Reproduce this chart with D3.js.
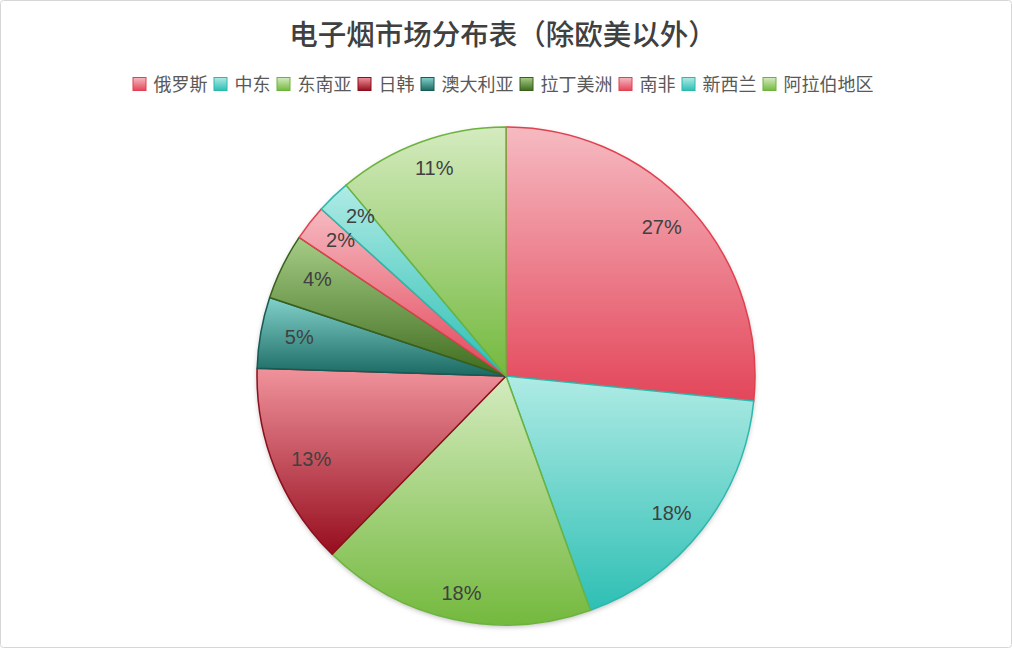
<!DOCTYPE html>
<html>
<head>
<meta charset="utf-8">
<script src="https://cdn.jsdelivr.net/npm/d3@7/dist/d3.min.js"></script>
<style>
  body { margin: 0; background: #fff; }
  svg { display: block; }
</style>
</head>
<body>
<script>
var width = 1012;
var height = 648;

// data (percent share)
var regions = ['俄罗斯', '中东', '东南亚', '日韩', '澳大利亚', '拉丁美洲', '南非', '新西兰', '阿拉伯地区'];
var shares = [26.6, 17.9, 17.8, 13.2, 4.6, 4.3, 2.3, 2.2, 11.1];

var topColors = ['#f6bac1', '#afebe5', '#d4ebbf', '#f0939c', '#82d2cb', '#a6cd86', '#f6bac1', '#afebe5', '#d4ebbf'];
var bottomColors = ['#e3465a', '#2ebfb4', '#74b93e', '#960d1e', '#1a6a63', '#3f6c1f', '#e3465a', '#2ebfb4', '#74b93e'];
var strokeColors = ['#e0404f', '#2bb8ad', '#6cb33d', '#8c0e1c', '#155a54', '#395f1c', '#e0404f', '#2bb8ad', '#6cb33d'];

var title = '电子烟市场分布表（除欧美以外）';

var svg = d3.select('body').append('svg')
  .attr('width', width)
  .attr('height', height);

var defs = svg.append('defs');

regions.forEach(function(r, i) {
  var g = defs.append('linearGradient')
    .attr('id', 'grad' + i)
    .attr('x1', 0).attr('y1', 0).attr('x2', 0).attr('y2', 1);
  g.append('stop').attr('offset', '0%').attr('stop-color', topColors[i]);
  g.append('stop').attr('offset', '100%').attr('stop-color', bottomColors[i]);
});

var shadow = defs.append('filter').attr('id', 'shadow')
  .attr('x', '-10%').attr('y', '-10%').attr('width', '120%').attr('height', '120%');
shadow.append('feDropShadow')
  .attr('dx', 0).attr('dy', 2).attr('stdDeviation', 2.5)
  .attr('flood-color', '#000').attr('flood-opacity', 0.25);

// outer frame
svg.append('rect')
  .attr('x', 0.5).attr('y', 0.5)
  .attr('width', width - 1).attr('height', height - 1)
  .attr('rx', 3)
  .attr('fill', '#fff')
  .attr('stroke', '#d6d6d6');

svg.append('text')
  .attr('x', 503).attr('y', 45)
  .attr('text-anchor', 'middle')
  .attr('font-family', '"Noto Sans CJK SC", sans-serif')
  .attr('font-size', 28.5)
  .attr('font-weight', 500)
  .attr('fill', '#404040')
  .text(title);

// legend
var legend = svg.append('g');
var lx = 0;
regions.forEach(function(r, i) {
  var item = legend.append('g').attr('transform', 'translate(' + lx + ',0)');
  item.append('rect')
    .attr('x', 0.5).attr('y', -6.5)
    .attr('width', 13).attr('height', 13)
    .attr('fill', 'url(#grad' + i + ')')
    .attr('stroke', strokeColors[i]);
  var t = item.append('text')
    .attr('x', 21).attr('y', 6.5)
    .attr('font-family', '"Noto Sans CJK SC", sans-serif')
    .attr('font-size', 18)
    .attr('fill', '#595959')
    .text(r);
  lx += 21 + t.node().getComputedTextLength() + 6;
});
var legendW = lx - 6;
legend.attr('transform', 'translate(' + (503 - legendW / 2) + ',84)');

// pie
var cx = 506, cy = 376, radius = 249;
var labelRx = 210, labelRy = 222;

var pie = d3.pie().sort(null).value(function(d) { return d; });
var arc = d3.arc().innerRadius(0).outerRadius(radius);
var unitArc = d3.arc().innerRadius(1).outerRadius(1);

var total = d3.sum(shares);
var arcs = pie(shares);

var chart = svg.append('g').attr('transform', 'translate(' + cx + ',' + cy + ')');

chart.append('circle')
  .attr('r', radius)
  .attr('fill', '#fff')
  .attr('filter', 'url(#shadow)');

chart.selectAll('path.slice')
  .data(arcs)
  .enter().append('path')
  .attr('class', 'slice')
  .attr('d', arc)
  .attr('fill', function(d, i) { return 'url(#grad' + i + ')'; })
  .attr('stroke', function(d, i) { return strokeColors[i]; })
  .attr('stroke-width', 1.5)
  .attr('stroke-linejoin', 'round');

chart.selectAll('text.lbl')
  .data(arcs)
  .enter().append('text')
  .attr('class', 'lbl')
  .attr('transform', function(d) {
    var c = unitArc.centroid(d);
    return 'translate(' + (c[0] * labelRx) + ',' + (c[1] * labelRy) + ')';
  })
  .attr('text-anchor', 'middle')
  .attr('dy', '0.36em')
  .attr('font-family', '"Liberation Sans", Arial, sans-serif')
  .attr('font-size', 20)
  .attr('fill', '#404040')
  .text(function(d) { return Math.round(d.value / total * 100) + '%'; });
</script>
</body>
</html>
